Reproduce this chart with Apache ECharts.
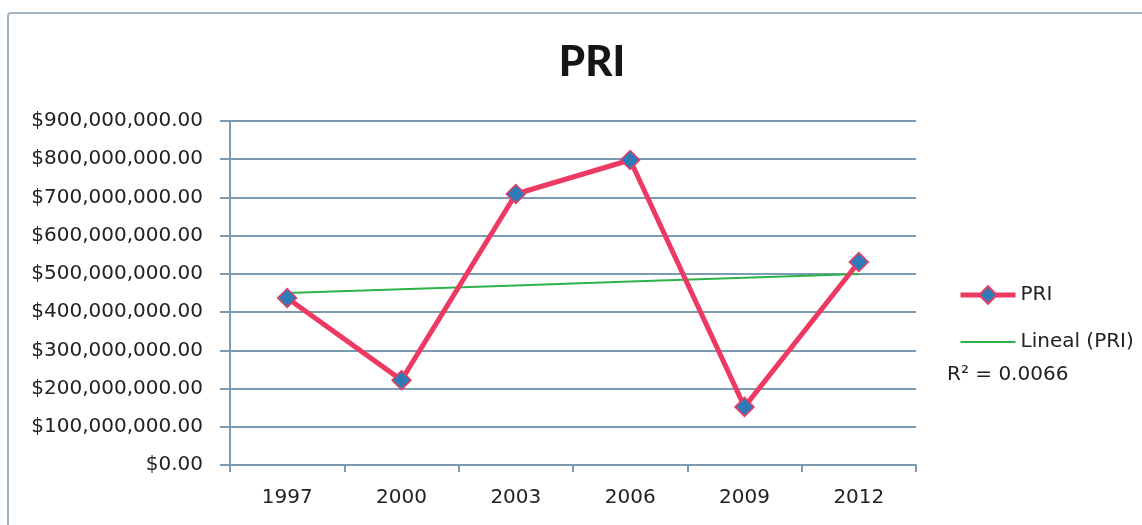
<!DOCTYPE html>
<html><head><meta charset="utf-8">
<script src="https://cdn.jsdelivr.net/npm/echarts@6/dist/echarts.min.js"></script>
<style>html,body{margin:0;padding:0;background:#fff}#c{width:1142px;height:525px}</style>
</head><body><div id="c"></div>
<script>
const categories = ['1997','2000','2003','2006','2009','2012'];
const priValues = [437000000, 222000000, 709000000, 798000000, 152000000, 531000000];
const yTicks = [0,100000000,200000000,300000000,400000000,500000000,600000000,700000000,800000000,900000000];
const r2Label = 'R² = 0.0066';

// least-squares linear trend (Excel "Lineal") computed from the data
const n = priValues.length;
const mx = (n - 1) / 2;
const my = priValues.reduce((a, b) => a + b, 0) / n;
let sxy = 0, sxx = 0;
priValues.forEach((v, i) => { sxy += (i - mx) * (v - my); sxx += (i - mx) * (i - mx); });
const slope = sxy / sxx, intercept = my - slope * mx;
const trend = priValues.map((v, i) => intercept + slope * i);

function money(v){ return '$' + Number(v).toLocaleString('en-US',{minimumFractionDigits:2,maximumFractionDigits:2}); }

const FONT = 'DejaVu Sans';
const AXC = '#7b9bb3';
const chart = echarts.init(document.getElementById('c'));
chart.setOption({
  backgroundColor:'#fff',
  animation:false,
  title:{text:'PRI',left:587,top:36,textAlign:'center',
    textStyle:{fontFamily:'Lato',fontSize:42,fontWeight:900,color:'#151515'}},
  graphic:[
    {type:'rect',shape:{x:8,y:13,width:1150,height:530,r:3},style:{fill:'none',stroke:'#a3b5c3',lineWidth:2}},
    {type:'text',left:947,top:365,style:{text:r2Label,fontFamily:FONT,fontSize:20,fill:'#222'}}
  ],
  legend:{orient:'vertical',left:953,top:280,itemGap:26,itemWidth:55,itemHeight:22,
    textStyle:{fontFamily:FONT,fontSize:20,color:'#222'},
    data:[{name:'PRI',lineStyle:{width:5}},
          {name:'Lineal (PRI)',icon:'path://M0,0L0,0M0,10L55,10L55,12L0,12ZM55,22L55,22',
           itemStyle:{color:'#2db34a'}}]},
  grid:{left:230,right:226,top:121,bottom:60},
  xAxis:{type:'category',data:categories,boundaryGap:true,
    axisLine:{lineStyle:{color:AXC,width:2}},
    axisTick:{show:true,length:7,lineStyle:{color:AXC,width:2}},
    axisLabel:{fontFamily:FONT,fontSize:20,color:'#222',margin:23},
    splitLine:{show:false}},
  yAxis:{type:'value',min:0,max:900000000,interval:100000000,
    axisLine:{show:true,lineStyle:{color:AXC,width:2}},
    axisTick:{show:true,inside:false,length:10,lineStyle:{color:AXC,width:2}},
    axisLabel:{fontFamily:FONT,fontSize:20,color:'#222',margin:27,formatter:money},
    splitLine:{show:true,lineStyle:{color:AXC,width:2}}},
  series:[
    {name:'PRI',type:'line',data:priValues,symbol:'diamond',symbolSize:19,
      lineStyle:{color:'#ec3a63',width:5},
      itemStyle:{color:'#2f7bb8',borderColor:'#ec3a63',borderWidth:1.5},z:3},
    {name:'Lineal (PRI)',type:'line',data:trend,symbol:'none',
      lineStyle:{color:'#2db34a',width:2},itemStyle:{color:'#2db34a'},z:2}
  ]
});
</script></body></html>
